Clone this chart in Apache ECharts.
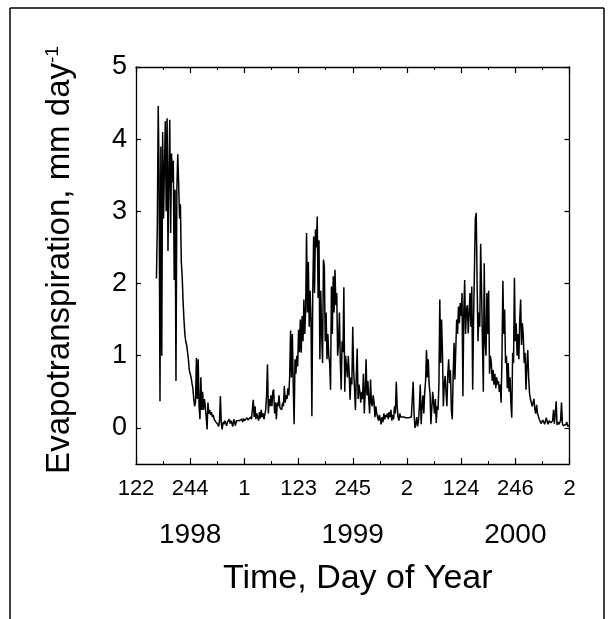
<!DOCTYPE html>
<html>
<head>
<meta charset="utf-8">
<script src="https://cdn.jsdelivr.net/npm/echarts@6/dist/echarts.min.js"></script>
<style>
html,body{margin:0;padding:0;background:#fff;}
#chart{width:612px;height:619px;}
</style>
</head>
<body>
<div id="chart"></div>
<script>
// Tick labels (day of year) at every 122 days starting at 1998 DOY 122
const dayTickLabels = ['122','244','1','123','245','2','124','246','2'];
// Year labels placed under the 244 / 245 / 246 ticks
const yearLabels = ['','1998','','','1999','','','2000',''];
const yTickValues = [0,1,2,3,4,5];
// Series: days counted from 1998 DOY 122, one value every 2 days
const firstDay = 46;
const dayStep = 2;
const etValues = [
2.07,2.8,4.46,3.5,0.37,3.9,1.0,4.1,2.9,3.6,
4.25,3.0,4.29,2.45,3.5,4.27,2.7,3.8,3.4,3.7,
2.05,3.3,0.65,3.3,3.79,3.4,2.9,3.1,2.3,2.1,
1.75,1.5,1.3,1.2,1.15,1.05,0.95,0.8,0.75,0.7,
0.62,0.55,0.4,0.3,0.35,0.97,0.4,0.95,0.3,0.12,
0.7,0.25,0.5,0.25,0.4,0.3,0.15,-0.02,0.35,0.2,
0.25,0.18,0.22,0.15,0.18,0.12,0.14,0.08,0.1,0.05,
0.02,0.1,0.44,0.06,-0.02,0.08,0.05,0.1,0.07,0.03,
0.08,0.1,0.12,0.06,0.1,0.08,0.02,0.12,0.08,0.03,
0.1,0.08,0.12,0.1,0.11,0.09,0.12,0.08,0.13,0.1,
0.12,0.1,0.14,0.11,0.13,0.1,0.15,0.12,0.14,0.39,
0.15,0.3,0.12,0.2,0.15,0.1,0.22,0.13,0.25,0.15,
0.2,0.12,0.1,0.25,0.45,0.88,0.2,0.4,0.3,0.45,
0.3,0.5,0.53,0.2,0.35,0.12,0.35,0.3,0.45,0.28,
0.3,0.25,0.35,0.3,0.58,0.35,0.45,0.4,0.55,0.45,
0.72,1.35,0.7,1.3,0.6,0.05,0.95,0.75,1.0,0.85,
1.36,1.05,1.5,1.04,1.55,1.2,1.78,1.3,1.65,2.7,
1.6,2.3,1.4,1.9,1.5,0.16,1.9,2.65,1.87,2.75,
2.5,2.93,1.8,2.6,0.95,1.9,1.3,0.9,2.33,2.24,
1.2,1.6,0.95,1.3,1.0,0.9,0.53,1.96,1.3,2.1,
1.6,2.19,1.7,1.87,1.0,1.18,1.6,0.9,0.53,1.2,
1.05,1.95,0.5,1.0,0.85,0.7,1.0,0.75,0.39,0.7,
0.6,1.4,0.8,0.55,0.25,0.72,1.1,0.4,0.6,0.5,
0.35,0.5,0.4,0.75,0.2,0.5,0.95,0.45,0.65,0.4,
0.2,0.67,0.35,0.3,0.45,0.35,0.15,0.3,0.2,0.15,
0.1,0.18,0.12,0.05,0.15,0.08,0.2,0.12,0.18,0.15,
0.2,0.12,0.22,0.15,0.25,0.1,0.18,0.12,0.3,0.2,
0.64,0.3,0.15,0.1,0.2,0.15,0.14,0.14,0.15,0.13,
0.14,0.14,0.15,0.14,0.14,0.13,0.14,0.15,0.14,0.64,
0.2,0.0,0.05,0.15,0.02,0.1,0.3,0.6,0.05,0.3,
0.45,0.2,0.5,0.65,1.08,0.7,0.95,0.6,0.48,0.05,
0.07,0.5,0.35,0.2,0.4,0.07,0.3,0.25,0.6,1.78,
0.9,1.5,1.04,0.3,0.6,0.72,0.5,0.3,0.75,0.95,
0.62,0.8,0.25,0.12,0.7,1.18,0.67,1.1,1.5,1.3,
1.68,1.45,1.73,1.55,1.87,0.44,1.6,2.05,1.3,1.64,
1.7,1.31,1.6,1.87,1.4,1.96,0.53,1.5,2.2,2.9,
2.98,2.0,1.2,1.6,1.4,2.55,1.9,1.2,0.5,2.28,
1.2,1.0,1.87,1.3,1.9,0.75,1.0,0.9,0.65,0.8,
0.6,0.75,0.55,0.7,0.6,0.65,0.5,0.6,0.35,1.0,
2.04,1.3,1.64,0.9,1.0,0.55,0.9,0.5,0.7,0.35,
0.14,1.04,0.9,2.08,1.2,1.45,1.0,1.3,0.95,1.5,
1.78,1.15,1.45,1.27,0.9,1.04,0.53,0.85,1.08,0.7,
0.48,0.4,0.35,0.3,0.3,0.4,0.25,0.2,0.32,0.2,
0.2,0.12,0.1,0.06,0.07,0.11,0.08,0.05,0.1,0.14,
0.08,0.05,0.1,0.12,0.07,0.05,0.1,0.25,0.06,0.2,
0.37,0.04,0.08,0.05,0.03,0.1,0.35,0.06,0.03,0.02,
0.02,0.05,0.08,0.02,0.0,0.04
];

const FONT = "'Liberation Sans', Arial, Helvetica, sans-serif";
const seriesData = etValues.map((v, i) => [firstDay + i * dayStep, v]);
const xMax = (dayTickLabels.length - 1) * 122;

const chart = echarts.init(document.getElementById('chart'), null, {renderer: 'canvas'});
const lineStyle = {color: '#000', width: 1.3};
const baseX = {
  type: 'value', min: 0, max: xMax, interval: 122, gridIndex: 0,
  splitLine: {show: false},
  axisLine: {show: true, onZero: false, lineStyle: lineStyle},
  minorTick: {show: true, splitNumber: 2, length: 3, lineStyle: {color: '#000', width: 1}},
  axisTick: {show: true, inside: true, length: 6, lineStyle: {color: '#000', width: 1.2}}
};
chart.setOption({
  animation: false,
  backgroundColor: '#fff',
  grid: {left: 136, right: 42.5, top: 67, bottom: 155, containLabel: false},
  xAxis: [
    Object.assign({}, baseX, {
      position: 'bottom',
      axisLabel: {show: true, margin: 14, fontSize: 22, color: '#000', fontFamily: FONT,
        formatter: v => dayTickLabels[Math.round(v / 122)]},
      name: 'Time, Day of Year', nameLocation: 'middle', nameGap: 98,
      nameTextStyle: {fontSize: 34, color: '#000', fontFamily: FONT, padding: [0, 0, 0, 10]}
    }),
    Object.assign({}, baseX, {position: 'top', axisLabel: {show: false}}),
    {
      type: 'value', min: 0, max: xMax, interval: 122, gridIndex: 0, position: 'bottom',
      splitLine: {show: false}, axisLine: {show: false}, axisTick: {show: false},
      axisLabel: {show: true, margin: 57, fontSize: 28, color: '#000', fontFamily: FONT,
        formatter: v => yearLabels[Math.round(v / 122)]}
    }
  ],
  yAxis: [
    {
      type: 'value', min: -0.5, max: 5, position: 'left',
      splitLine: {show: false},
      axisLine: {show: true, onZero: false, lineStyle: lineStyle},
      axisTick: {show: true, inside: true, length: 5, customValues: yTickValues, lineStyle: {color: '#000', width: 1.2}},
      axisLabel: {show: true, margin: 9, fontSize: 27, color: '#000', fontFamily: FONT, customValues: yTickValues},
      name: 'Evapotranspiration, mm day{sup|-1}', nameLocation: 'middle', nameGap: 60,
      nameTextStyle: {fontSize: 33, color: '#000', fontFamily: FONT, padding: [0, 0, 0, 11],
        rich: {sup: {fontSize: 19, color: '#000', fontFamily: FONT, verticalAlign: 'top', lineHeight: 33}}}
    },
    {
      type: 'value', min: -0.5, max: 5, position: 'right',
      splitLine: {show: false},
      axisLine: {show: true, onZero: false, lineStyle: lineStyle},
      axisTick: {show: true, inside: true, length: 5, customValues: yTickValues, lineStyle: {color: '#000', width: 1.2}},
      axisLabel: {show: false}
    }
  ],
  series: [{
    type: 'line', xAxisIndex: 0, yAxisIndex: 0,
    data: seriesData, showSymbol: false, symbol: 'none',
    lineStyle: {color: '#000', width: 1.5}, clip: true
  }],
  graphic: [
    {type: 'line', shape: {x1: 10, y1: 8, x2: 604, y2: 8}, style: {stroke: '#000', lineWidth: 1.5}},
    {type: 'line', shape: {x1: 10, y1: 8, x2: 10, y2: 619}, style: {stroke: '#000', lineWidth: 1.5}},
    {type: 'line', shape: {x1: 604, y1: 8, x2: 604, y2: 619}, style: {stroke: '#000', lineWidth: 1.5}}
  ]
});
</script>
</body>
</html>
